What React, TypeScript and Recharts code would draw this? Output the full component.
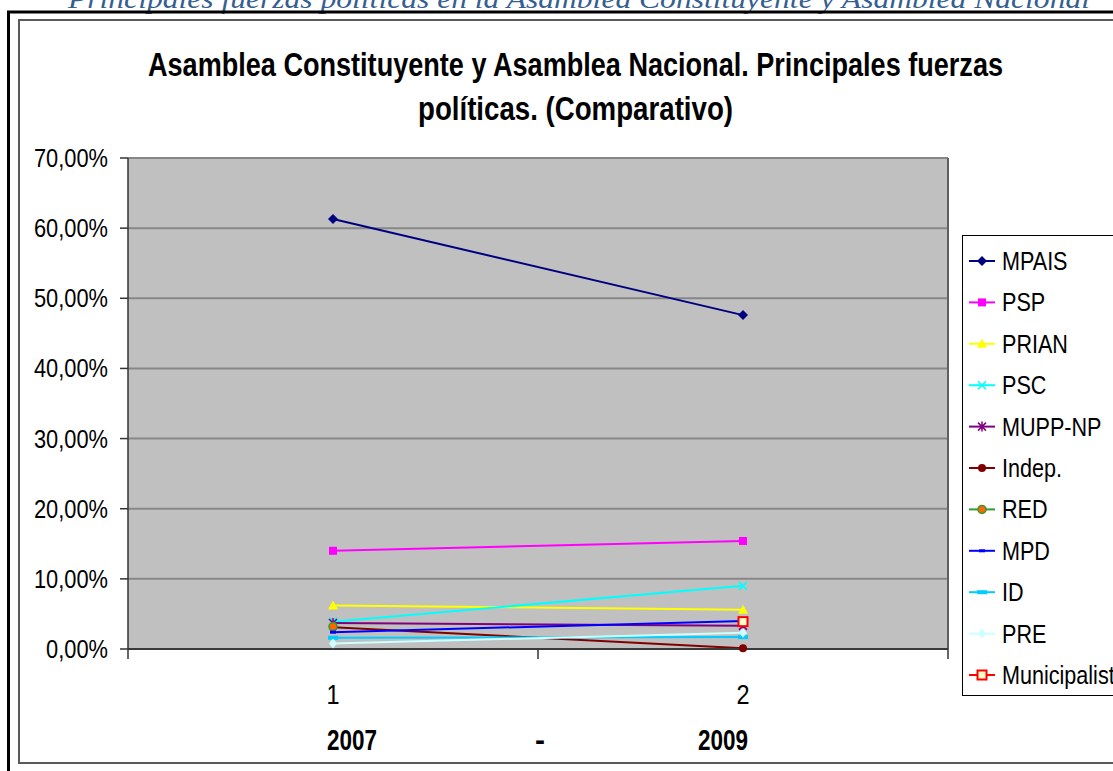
import { CartesianGrid, Line, LineChart, ReferenceLine, XAxis, YAxis } from "recharts";

// categories (x positions) and their labels
const periods = [1, 2];
const periodLabels = ["1", "2"];
const years = ["2007", "2009"];
const xBoundaries = [0.5, 1.5, 2.5];
const yTicks = [0, 0.1, 0.2, 0.3, 0.4, 0.5, 0.6, 0.7];

// share of seats per party, 2007 vs 2009
const mpais = [0.613, 0.476];
const psp = [0.14, 0.154];
const prian = [0.062, 0.056];
const psc = [0.039, 0.09];
const muppNp = [0.037, 0.033];
const indep = [0.031, 0.001];
const red = [0.032, null];
const mpd = [0.024, 0.04];
const id = [0.016, 0.017];
const pre = [0.008, 0.023];
const municipalist = [null, 0.039];

const series = [
  { key: "mpais", name: "MPAIS", color: "#000080", marker: "diamond", values: mpais },
  { key: "psp", name: "PSP", color: "#FF00FF", marker: "square", values: psp },
  { key: "prian", name: "PRIAN", color: "#FFFF00", marker: "triangle", values: prian },
  { key: "psc", name: "PSC", color: "#00FFFF", marker: "x", values: psc },
  { key: "mupp", name: "MUPP-NP", color: "#800080", marker: "star", values: muppNp },
  { key: "indep", name: "Indep.", color: "#800000", marker: "circle", values: indep },
  { key: "red", name: "RED", color: "#339933", marker: "redDot", values: red },
  { key: "mpd", name: "MPD", color: "#0000FF", marker: "dash", values: mpd },
  { key: "id", name: "ID", color: "#00CCFF", marker: "longdash", values: id },
  { key: "pre", name: "PRE", color: "#CCFFFF", marker: "diamondSmall", values: pre },
  { key: "muni", name: "Municipalist", color: "#FF0000", marker: "openSquare", values: municipalist },
];

const data = periods.map((p, i) => {
  const row: Record<string, number | null> = { x: p };
  series.forEach((s) => (row[s.key] = s.values[i]));
  return row;
});

const xTicks = [...xBoundaries, ...periods].sort((a, b) => a - b);

const SANS = "'Liberation Sans', Arial, sans-serif";

function pct(v: number) {
  return `${(v * 100).toFixed(2).replace(".", ",")}%`;
}

function Marker({ kind, cx, cy, color }: { kind: string; cx: number; cy: number; color: string }) {
  switch (kind) {
    case "diamond":
      return <polygon points={`${cx},${cy - 5} ${cx + 5},${cy} ${cx},${cy + 5} ${cx - 5},${cy}`} fill={color} />;
    case "square":
      return <rect x={cx - 4} y={cy - 4} width={8} height={8} fill={color} />;
    case "triangle":
      return <polygon points={`${cx},${cy - 5} ${cx + 5},${cy + 4} ${cx - 5},${cy + 4}`} fill={color} />;
    case "x":
      return (
        <path
          d={`M${cx - 4},${cy - 4}L${cx + 4},${cy + 4}M${cx - 4},${cy + 4}L${cx + 4},${cy - 4}`}
          stroke={color}
          strokeWidth={1.5}
        />
      );
    case "star":
      return (
        <path
          d={`M${cx - 4},${cy - 4}L${cx + 4},${cy + 4}M${cx - 4},${cy + 4}L${cx + 4},${cy - 4}M${cx},${cy - 5}L${cx},${cy + 5}`}
          stroke={color}
          strokeWidth={1.5}
        />
      );
    case "circle":
      return <circle cx={cx} cy={cy} r={4} fill={color} />;
    case "redDot":
      return <circle cx={cx} cy={cy} r={4} fill="#FF6600" stroke={color} strokeWidth={1.5} />;
    case "dash":
      return <rect x={cx - 3} y={cy - 1.5} width={6} height={3} fill={color} />;
    case "longdash":
      return <rect x={cx - 5} y={cy - 2} width={10} height={4} fill={color} />;
    case "diamondSmall":
      return <polygon points={`${cx},${cy - 5} ${cx + 4},${cy} ${cx},${cy + 5} ${cx - 4},${cy}`} fill={color} />;
    case "openSquare":
      return <rect x={cx - 4.5} y={cy - 4.5} width={9} height={9} fill="#FFFFCC" stroke={color} strokeWidth={2} />;
    default:
      return null;
  }
}

function YTick(props: any) {
  const { x, y, payload } = props;
  return (
    <g transform={`translate(${x},${y + 9}) scale(0.84,1)`}>
      <text textAnchor="end" fontFamily={SANS} fontSize={26} fill="#000">
        {pct(payload.value)}
      </text>
    </g>
  );
}

function XTick(props: any) {
  const { x, y, payload } = props;
  const i = periods.indexOf(payload.value);
  if (i < 0) return <line x1={x} x2={x} y1={y} y2={y + 10} stroke="#333" strokeWidth={1.5} />;
  return (
    <g transform={`translate(${x},${y + 55}) scale(0.84,1)`}>
      <text textAnchor="middle" fontFamily={SANS} fontSize={28} fill="#000">
        {periodLabels[i]}
      </text>
    </g>
  );
}

function Backdrop() {
  const legendTop = 235;
  return (
    <svg width={1113} height={771} style={{ position: "absolute", left: 0, top: 0 }}>
      <rect width={1113} height={771} fill="#fff" />
      <text
        x={68}
        y={8}
        textLength={1022}
        lengthAdjust="spacingAndGlyphs"
        fontFamily="'Liberation Serif', serif"
        fontStyle="italic"
        fontSize={27}
        fill="#365F91"
      >
        Principales fuerzas políticas en la Asamblea Constituyente y Asamblea Nacional
      </text>
      <line x1={8.5} x2={8.5} y1={11} y2={771} stroke="#000" strokeWidth={3} />
      <line x1={7} x2={1113} y1={12} y2={12} stroke="#000" strokeWidth={3} />
      <rect x={19} y={20} width={1110} height={743} fill="#fff" stroke="#5a5a5a" strokeWidth={2} />
      <g fontFamily={SANS} fontWeight="bold" fill="#000">
        <text x={148} y={76} fontSize={33} textLength={855} lengthAdjust="spacingAndGlyphs">
          Asamblea Constituyente y Asamblea Nacional. Principales fuerzas
        </text>
        <text x={418} y={120} fontSize={33} textLength={315} lengthAdjust="spacingAndGlyphs">
          políticas. (Comparativo)
        </text>
        <text x={327} y={750} fontSize={30} textLength={50} lengthAdjust="spacingAndGlyphs">
          {years[0]}
        </text>
        <text x={540} y={750} fontSize={30} textAnchor="middle">
          -
        </text>
        <text x={698} y={750} fontSize={30} textLength={50} lengthAdjust="spacingAndGlyphs">
          {years[1]}
        </text>
      </g>
      <rect x={962.5} y={legendTop + 0.5} width={200} height={460} fill="#fff" stroke="#000" strokeWidth={1} />
      {series.map((s, i) => {
        const cy = legendTop + 26 + i * 41.4;
        return (
          <g key={s.key}>
            <line x1={969} x2={995} y1={cy} y2={cy} stroke={s.color} strokeWidth={2} />
            <Marker kind={s.marker} cx={982} cy={cy} color={s.color} />
            <g transform={`translate(1002,${cy + 9}) scale(0.83,1)`}>
              <text fontFamily={SANS} fontSize={26} fill="#000">
                {s.name}
              </text>
            </g>
          </g>
        );
      })}
    </svg>
  );
}

export default function App() {
  return (
    <div style={{ position: "absolute", left: 0, top: 0, width: 1113, height: 771, overflow: "hidden" }}>
      <Backdrop />
      <div style={{ position: "absolute", left: 0, top: 0 }}>
        <LineChart width={1113} height={771} data={data} margin={{ top: 158, right: 165, bottom: 92, left: 20 }}>
          <CartesianGrid vertical={false} stroke="#878787" strokeWidth={2} fill="#C0C0C0" fillOpacity={1} />
          <XAxis
            dataKey="x"
            type="number"
            domain={[0.5, 2.5]}
            ticks={xTicks}
            interval={0}
            tickSize={0}
            tickMargin={0}
            tickLine={false}
            tick={XTick}
            axisLine={{ stroke: "#3a3a3a", strokeWidth: 2 }}
            height={30}
            allowDataOverflow
          />
          <YAxis
            type="number"
            domain={[0, 0.7]}
            ticks={yTicks}
            interval={0}
            width={108}
            tickSize={8}
            tickMargin={12}
            tick={YTick}
            axisLine={{ stroke: "#333", strokeWidth: 1.5 }}
            tickLine={{ stroke: "#333", strokeWidth: 1.5 }}
          />
          <ReferenceLine x={2.5} stroke="#5f5f5f" strokeWidth={2} ifOverflow="visible" />
          {series.map((s) => (
            <Line
              key={s.key}
              type="linear"
              dataKey={s.key}
              name={s.name}
              stroke={s.color}
              strokeWidth={2}
              isAnimationActive={false}
              connectNulls={false}
              dot={(p: any) =>
                p.cy == null || p.value == null ? (
                  <g key={`${s.key}-${p.index}`} />
                ) : (
                  <g key={`${s.key}-${p.index}`}>
                    <Marker kind={s.marker} cx={p.cx} cy={p.cy} color={s.color} />
                  </g>
                )
              }
              activeDot={false}
            />
          ))}
        </LineChart>
      </div>
    </div>
  );
}
